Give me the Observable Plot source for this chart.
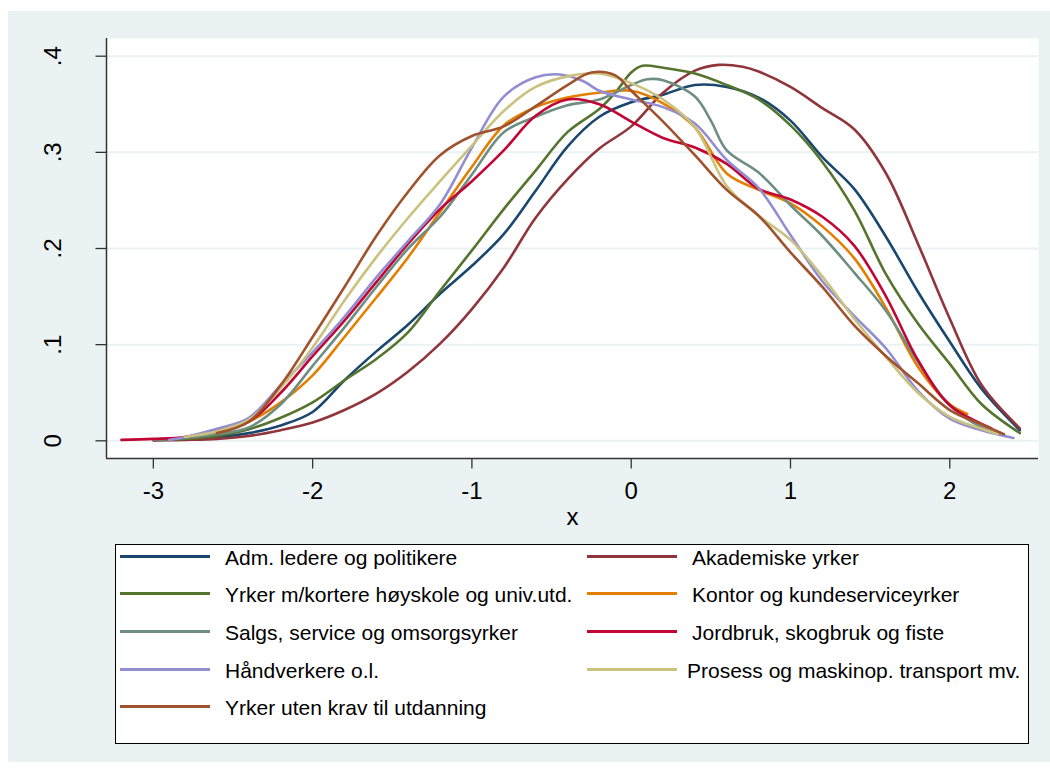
<!DOCTYPE html>
<html><head><meta charset="utf-8">
<script src="https://cdn.jsdelivr.net/npm/d3@7"></script>
<script src="https://cdn.jsdelivr.net/npm/@observablehq/plot@0.6"></script>
<style>
html,body{margin:0;padding:0;background:#fff;}
body{width:1050px;height:774px;position:relative;overflow:hidden;font-family:"Liberation Sans",Arial,sans-serif;}
#bg{position:absolute;left:8px;top:11px;width:1042px;height:751px;background:#EAF2F3;}
#chart{position:absolute;left:0;top:0;}
#legend{position:absolute;left:115px;top:544px;width:912px;height:198px;background:#fff;border:1px solid #000;}
.sw{position:absolute;width:90px;height:3px;}
.lb{position:absolute;font-size:21px;line-height:21px;white-space:nowrap;color:#000;}
</style></head><body>
<div id="bg"></div><div id="chart"></div><div id="legend"></div>
<script>
// Series names (legend order) and colours
const seriesNames = [
  "Adm. ledere og politikere",
  "Akademiske yrker",
  "Yrker m/kortere høyskole og univ.utd.",
  "Kontor og kundeserviceyrker",
  "Salgs, service og omsorgsyrker",
  "Jordbruk, skogbruk og fiste",
  "Håndverkere o.l.",
  "Prosess og maskinop. transport mv.",
  "Yrker uten krav til utdanning"
];
const seriesColors = ["#1A476F","#90353B","#55752F","#E37E00","#6E8E84","#C10534","#938DD2","#CAC27E","#A0522D"];

// Density estimates: [x, density]
const admLedere = [[-3.0,0.001],[-2.8,0.002],[-2.6,0.004],[-2.4,0.008],[-2.2,0.016],[-2.0,0.03],[-1.8,0.063],[-1.6,0.093],[-1.4,0.121],[-1.2,0.153],[-1.0,0.182],[-0.8,0.215],[-0.6,0.26],[-0.4,0.306],[-0.2,0.337],[0,0.352],[0.2,0.36],[0.4,0.37],[0.6,0.368],[0.8,0.357],[1.0,0.333],[1.2,0.295],[1.4,0.262],[1.6,0.212],[1.8,0.155],[2.0,0.103],[2.2,0.054],[2.44,0.011]];
const akademiske = [[-3.0,0.0005],[-2.8,0.001],[-2.6,0.002],[-2.4,0.005],[-2.2,0.011],[-2.0,0.019],[-1.8,0.032],[-1.6,0.049],[-1.4,0.072],[-1.2,0.101],[-1.0,0.137],[-0.8,0.18],[-0.6,0.232],[-0.4,0.272],[-0.2,0.304],[0,0.327],[0.2,0.362],[0.4,0.385],[0.55,0.391],[0.7,0.389],[0.8,0.384],[1.0,0.368],[1.2,0.346],[1.4,0.324],[1.6,0.278],[1.8,0.205],[2.0,0.127],[2.2,0.058],[2.44,0.013]];
const kortereUtd = [[-3.0,0.001],[-2.8,0.002],[-2.6,0.005],[-2.4,0.012],[-2.2,0.024],[-2.0,0.04],[-1.8,0.063],[-1.6,0.085],[-1.4,0.113],[-1.2,0.156],[-1.0,0.198],[-0.8,0.241],[-0.6,0.281],[-0.4,0.321],[-0.2,0.345],[-0.1,0.362],[0,0.383],[0.07,0.39],[0.2,0.388],[0.4,0.382],[0.6,0.37],[0.8,0.355],[1.0,0.328],[1.2,0.29],[1.4,0.24],[1.6,0.173],[1.8,0.122],[2.0,0.08],[2.2,0.038],[2.44,0.008]];
const kontor = [[-2.8,0.004],[-2.6,0.01],[-2.4,0.02],[-2.2,0.04],[-2.0,0.068],[-1.8,0.108],[-1.6,0.149],[-1.4,0.191],[-1.2,0.238],[-1.0,0.285],[-0.8,0.328],[-0.6,0.347],[-0.4,0.357],[-0.2,0.362],[0,0.364],[0.2,0.351],[0.4,0.326],[0.6,0.278],[0.8,0.261],[1.0,0.247],[1.2,0.223],[1.4,0.19],[1.6,0.138],[1.8,0.077],[2.0,0.038],[2.11,0.028]];
const salgs = [[-3.0,0.001],[-2.8,0.003],[-2.6,0.007],[-2.4,0.014],[-2.2,0.038],[-2.0,0.078],[-1.8,0.118],[-1.6,0.16],[-1.4,0.2],[-1.2,0.233],[-1.0,0.277],[-0.8,0.321],[-0.6,0.337],[-0.4,0.349],[-0.2,0.355],[0,0.37],[0.1,0.376],[0.2,0.375],[0.4,0.358],[0.5,0.333],[0.6,0.302],[0.8,0.279],[1.0,0.245],[1.2,0.213],[1.4,0.175],[1.6,0.135],[1.8,0.082],[2.0,0.037],[2.2,0.014],[2.35,0.005]];
const jordbruk = [[-3.2,0.001],[-3.0,0.002],[-2.8,0.004],[-2.6,0.011],[-2.4,0.02],[-2.2,0.05],[-2.0,0.088],[-1.8,0.125],[-1.6,0.165],[-1.4,0.205],[-1.2,0.241],[-1.0,0.27],[-0.8,0.302],[-0.6,0.338],[-0.4,0.355],[-0.2,0.35],[0,0.332],[0.2,0.315],[0.4,0.305],[0.6,0.288],[0.8,0.262],[1.0,0.251],[1.2,0.233],[1.4,0.203],[1.6,0.15],[1.8,0.084],[2.0,0.037],[2.26,0.013]];
const handverkere = [[-2.9,0.001],[-2.8,0.004],[-2.6,0.0125],[-2.4,0.024],[-2.2,0.058],[-2.0,0.092],[-1.8,0.129],[-1.6,0.17],[-1.4,0.208],[-1.2,0.246],[-1.0,0.305],[-0.8,0.358],[-0.6,0.378],[-0.45,0.381],[-0.3,0.374],[-0.2,0.364],[0,0.355],[0.2,0.347],[0.4,0.33],[0.6,0.292],[0.8,0.263],[1.0,0.214],[1.2,0.166],[1.4,0.13],[1.6,0.096],[1.8,0.052],[2.0,0.023],[2.2,0.011],[2.4,0.003]];
const prosess = [[-2.8,0.004],[-2.6,0.01],[-2.4,0.022],[-2.2,0.055],[-2.0,0.097],[-1.8,0.146],[-1.6,0.191],[-1.4,0.232],[-1.2,0.27],[-1.0,0.307],[-0.8,0.343],[-0.6,0.368],[-0.4,0.379],[-0.2,0.382],[0,0.372],[0.2,0.355],[0.4,0.326],[0.6,0.265],[0.8,0.234],[1.0,0.209],[1.2,0.171],[1.4,0.127],[1.6,0.087],[1.8,0.05],[2.0,0.025],[2.2,0.0125],[2.3,0.007]];
const utenKrav = [[-2.6,0.008],[-2.4,0.02],[-2.2,0.058],[-2.0,0.108],[-1.8,0.16],[-1.6,0.213],[-1.4,0.259],[-1.2,0.297],[-1.0,0.317],[-0.8,0.327],[-0.6,0.348],[-0.4,0.37],[-0.25,0.383],[-0.1,0.38],[0,0.364],[0.2,0.332],[0.4,0.297],[0.6,0.261],[0.8,0.234],[1.0,0.196],[1.2,0.16],[1.4,0.12],[1.6,0.088],[1.8,0.06],[2.0,0.032],[2.2,0.017],[2.34,0.007]];

const seriesPoints = [admLedere, akademiske, kortereUtd, kontor, salgs, jordbruk, handverkere, prosess, utenKrav];

const xTicks = [-3,-2,-1,0,1,2];
const xTickLabels = ["-3","-2","-1","0","1","2"];
const yTicks = [0,0.1,0.2,0.3,0.4];
const yTickLabels = ["0",".1",".2",".3",".4"];
const xTitle = "x";

const data = [];
seriesNames.forEach((name,i) => seriesPoints[i].forEach(([x,y]) => data.push({series:name, x, y})));

const axisColor = "#333";
const plot = Plot.plot({
  width:1050, height:530,
  marginLeft:106, marginRight:12, marginTop:38, marginBottom:72,
  style:{background:"transparent", fontFamily:"'Liberation Sans', Arial, sans-serif", color:"#000"},
  x:{domain:[-3.294,2.557], label:null},
  y:{domain:[-0.0184,0.4184], label:null},
  color:{domain:seriesNames, range:seriesColors},
  marks:[
    Plot.frame({fill:"white", stroke:"none"}),
    Plot.ruleY(yTicks, {stroke:"#EAF2F3", strokeWidth:2}),
    Plot.line(data, {x:"x", y:"y", z:"series", stroke:"series", strokeWidth:2.6, curve:"catmull-rom"}),
    Plot.ruleX([-3.294], {stroke:axisColor, strokeWidth:1.5}),
    Plot.ruleY([-0.0184], {stroke:axisColor, strokeWidth:1.5}),
    Plot.axisY(yTicks, {tickSize:10.5, tickFormat:() => "", stroke:axisColor, strokeWidth:1.3, label:null}),
    Plot.text(yTicks, {y:d => d, text:(d,i) => yTickLabels[i], frameAnchor:"left", dx:-53, rotate:-90, fontSize:24, textAnchor:"middle", lineAnchor:"middle", fill:"#000"}),
    Plot.axisX(xTicks, {tickSize:10.5, tickPadding:13, tickFormat:(d,i) => xTickLabels[i], fontSize:24, stroke:axisColor, strokeWidth:1.3, fill:"#000", label:null}),
    Plot.text([xTitle], {frameAnchor:"bottom", dy:59, fontSize:24, lineAnchor:"middle", fill:"#000"})
  ]
});
document.getElementById("chart").appendChild(plot);

// Legend (two columns, row-major like the original)
const legend = document.getElementById("legend");
const rowY = [11, 48, 86, 124, 161];
seriesNames.forEach((name,i) => {
  const col = i % 2, row = Math.floor(i / 2);
  const sw = document.createElement("div");
  sw.className = "sw";
  sw.style.left = (col ? 471 : 4) + "px";
  sw.style.top = (rowY[row] - 1.5) + "px";
  sw.style.background = seriesColors[i];
  legend.appendChild(sw);
  const lb = document.createElement("div");
  lb.className = "lb";
  lb.style.left = (col ? (i === 7 ? 571 : 576) : 109) + "px";
  lb.style.top = (rowY[row] - 9) + "px";
  lb.textContent = name;
  legend.appendChild(lb);
});
</script>
</body></html>
